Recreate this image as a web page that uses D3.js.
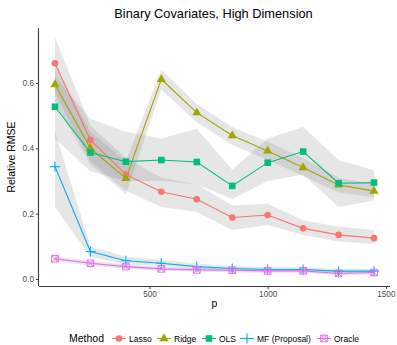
<!DOCTYPE html>
<html><head><meta charset="utf-8">
<script src="https://cdn.jsdelivr.net/npm/d3@7"></script>
<style>body{margin:0;background:#fff;font-family:"Liberation Sans",Arial,sans-serif}</style>
</head><body><svg id="c" width="397" height="345"></svg>
<script>
const pValues = [100,250,400,550,700,850,1000,1150,1300,1450];
const methods = ["Lasso","Ridge","OLS","MF (Proposal)","Oracle"];
const colors = ["#F8766D","#A3A500","#00BF7D","#00B0F6","#E76BF3"];
const lasso  = [0.66,0.425,0.32,0.267,0.244,0.188,0.196,0.155,0.135,0.125];
const lassoLo= [0.57,0.36,0.27,0.22,0.205,0.15,0.165,0.135,0.115,0.107];
const lassoHi= [0.74,0.47,0.37,0.31,0.29,0.225,0.23,0.18,0.16,0.15];
const ridge  = [0.595,0.40,0.308,0.611,0.509,0.439,0.392,0.341,0.288,0.269];
const ridgeLo= [0.54,0.35,0.26,0.58,0.48,0.41,0.365,0.315,0.265,0.25];
const ridgeHi= [0.65,0.45,0.36,0.64,0.535,0.465,0.42,0.37,0.31,0.29];
const ols    = [0.527,0.387,0.359,0.364,0.358,0.285,0.356,0.39,0.293,0.295];
const olsLo  = [0.43,0.33,0.30,0.30,0.29,0.245,0.30,0.32,0.22,0.24];
const olsHi  = [0.62,0.49,0.45,0.43,0.46,0.334,0.43,0.465,0.364,0.333];
const mf     = [0.344,0.084,0.056,0.048,0.038,0.032,0.029,0.029,0.024,0.024];
const mfLo   = [0.22,0.068,0.045,0.04,0.03,0.025,0.022,0.022,0.018,0.018];
const mfHi   = [0.45,0.1,0.068,0.058,0.047,0.04,0.036,0.036,0.031,0.031];
const oracle = [0.062,0.048,0.038,0.031,0.028,0.027,0.025,0.025,0.017,0.02];
const oracleLo=[0.054,0.041,0.031,0.025,0.022,0.021,0.019,0.019,0.012,0.014];
const oracleHi=[0.07,0.055,0.045,0.037,0.034,0.033,0.031,0.031,0.023,0.026];
const xTicks = [500,1000,1500];
const yTicks = [0.0,0.2,0.4,0.6];

const series = [
  {name:methods[0], v:lasso, lo:lassoLo, hi:lassoHi, color:colors[0], shape:"circle"},
  {name:methods[1], v:ridge, lo:ridgeLo, hi:ridgeHi, color:colors[1], shape:"triangle"},
  {name:methods[2], v:ols, lo:olsLo, hi:olsHi, color:colors[2], shape:"square"},
  {name:methods[3], v:mf, lo:mfLo, hi:mfHi, color:colors[3], shape:"plus"},
  {name:methods[4], v:oracle, lo:oracleLo, hi:oracleHi, color:colors[4], shape:"boxcross"}
];

const svg = d3.select("#c");
const L=39, R=390, T=28, B=286;
const x = d3.scaleLinear().domain([32.5,1517.5]).range([L,R]);
const y = d3.scaleLinear().domain([-0.0214,0.768]).range([B,T]);

// ribbons
series.forEach(s=>{
  const area = d3.area().x((d,i)=>x(pValues[i])).y0((d,i)=>y(s.lo[i])).y1((d,i)=>y(s.hi[i]));
  svg.append("path").attr("d",area(s.v)).attr("fill","#808080").attr("fill-opacity",0.2);
});
// lines
series.forEach(s=>{
  const line = d3.line().x((d,i)=>x(pValues[i])).y(d=>y(d));
  svg.append("path").attr("d",line(s.v)).attr("fill","none").attr("stroke",s.color).attr("stroke-width",1.1);
});
function marker(g, shape, cx, cy, color){
  if(shape==="circle") g.append("circle").attr("cx",cx).attr("cy",cy).attr("r",3.3).attr("fill",color);
  else if(shape==="triangle") g.append("path").attr("d",d3.symbol(d3.symbolTriangle,36)()).attr("transform",`translate(${cx},${cy})`).attr("fill",color);
  else if(shape==="square") g.append("rect").attr("x",cx-3.3).attr("y",cy-3.3).attr("width",6.6).attr("height",6.6).attr("fill",color);
  else if(shape==="plus") g.append("path").attr("d",`M${cx-5},${cy}H${cx+5}M${cx},${cy-5}V${cy+5}`).attr("stroke",color).attr("stroke-width",1.1).attr("fill","none");
  else if(shape==="boxcross") g.append("path").attr("d",`M${cx-3.3},${cy-3.3}h6.6v6.6h-6.6zM${cx-3.3},${cy-3.3}L${cx+3.3},${cy+3.3}M${cx+3.3},${cy-3.3}L${cx-3.3},${cy+3.3}`).attr("stroke",color).attr("stroke-width",1).attr("fill","none");
}
series.forEach(s=>{
  const g = svg.append("g");
  s.v.forEach((d,i)=>marker(g,s.shape,x(pValues[i]),y(d),s.color));
});

// axes
const xa = svg.append("g").attr("transform",`translate(0,${B})`)
  .call(d3.axisBottom(x).tickValues(xTicks).tickSize(3).tickPadding(2).tickFormat(d3.format("d")));
const ya = svg.append("g").attr("transform",`translate(${L},0)`)
  .call(d3.axisLeft(y).tickValues(yTicks).tickSize(3).tickPadding(2).tickFormat(d3.format(".1f")));
[xa,ya].forEach(a=>{
  a.select(".domain").attr("stroke","#3a3a3a").attr("stroke-width",1.1);
  a.selectAll(".tick line").attr("stroke","#3a3a3a");
  a.selectAll(".tick text").attr("fill","#4d4d4d").style("font-size","8.2px").style("font-family","Liberation Sans, Arial, sans-serif");
});
xa.select(".domain").attr("d",`M${L},0.5H${R}`);
ya.select(".domain").attr("d",`M-0.5,${T}V${B}`);

svg.append("text").attr("x",213.5).attr("y",18).attr("text-anchor","middle")
  .style("font-size","12.8px").text("Binary Covariates, High Dimension");
svg.append("text").attr("x",(L+R)/2).attr("y",307).attr("text-anchor","middle")
  .style("font-size","10.5px").text("p");
svg.append("text").attr("transform",`translate(15,${(T+B)/2}) rotate(-90)`).attr("text-anchor","middle")
  .style("font-size","10.5px").text("Relative RMSE");

// legend
const ly = 338.5;
svg.append("text").attr("x",69).attr("y",ly+3.8).style("font-size","10.5px").text("Method");
const keyX = [112,157,202,240,317];
series.forEach((s,i)=>{
  const g = svg.append("g");
  g.append("line").attr("x1",keyX[i]).attr("x2",keyX[i]+14).attr("y1",ly).attr("y2",ly).attr("stroke",s.color).attr("stroke-width",1.1);
  marker(g,s.shape,keyX[i]+7,ly,s.color);
  g.append("text").attr("x",keyX[i]+17).attr("y",ly+3).style("font-size","8.5px").text(s.name);
});
</script></body></html>
